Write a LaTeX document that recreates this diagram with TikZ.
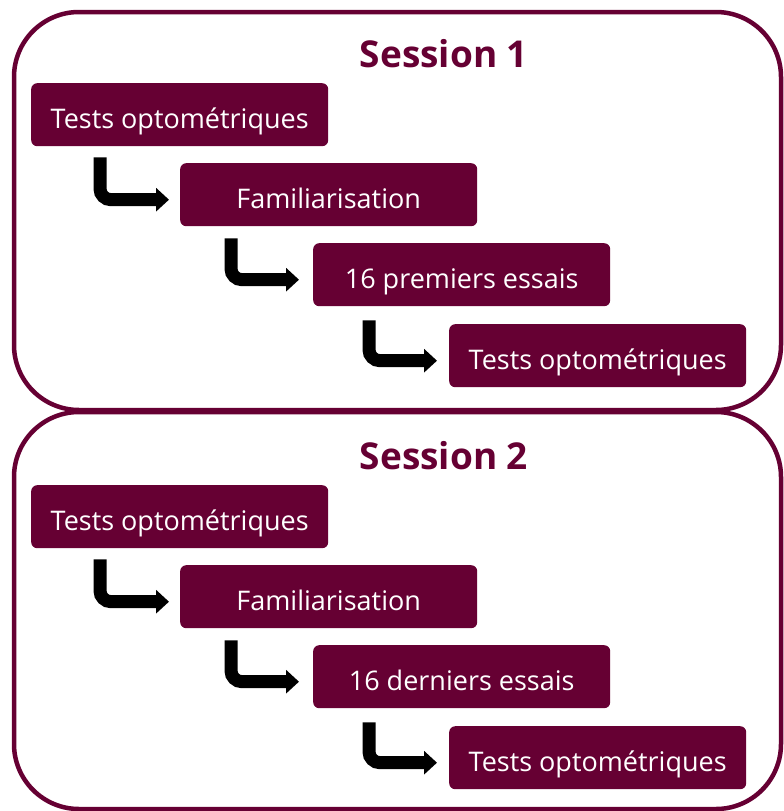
\documentclass[tikz,border=0pt]{standalone}
\usepackage{fontspec}
\setmainfont{Open Sans}
\usetikzlibrary{arrows.meta}
\definecolor{mauve}{HTML}{660033}
\tikzset{
  stepbox/.style={fill=mauve, rounded corners=6pt, minimum width=297pt, minimum height=63pt,
    text=white, inner sep=0pt, text height=27pt, text depth=0pt, anchor=north west,
    font=\fontsize{27}{32}\selectfont},
  sessiontitle/.style={text=mauve, anchor=base, inner sep=0pt, font=\fontsize{37}{44}\selectfont\bfseries},
  container/.style={draw=mauve, line width=4.5pt, rounded corners=65pt},
  flow/.style={draw=black, line width=13pt, rounded corners=11pt, -{Triangle[length=13pt,width=23pt]}}
}
\begin{document}
\begin{tikzpicture}[x=1pt,y=-1pt]
\useasboundingbox (0,0) rectangle (784,811);
% containers
\draw[container] (14,12) rectangle (781,410);
\draw[container] (14,412) rectangle (781,809);
% session 1
\node[sessiontitle] (t1) at (444,67) {Session 1};
\node[stepbox] (a1) at (31,83) {Tests optométriques};
\node[stepbox] (a2) at (180,163) {Familiarisation};
\node[stepbox] (a3) at (313,243) {16 premiers essais};
\node[stepbox] (a4) at (449,324) {Tests optométriques};
\draw[flow] ([shift={(69,11)}]a1.south west) |- ([shift={(-11,5)}]a2.west);
\draw[flow] ([shift={(51,12)}]a2.south west) |- ([shift={(-14,5)}]a3.west);
\draw[flow] ([shift={(56,14)}]a3.south west) |- ([shift={(-12,5)}]a4.west);
% session 2
\node[sessiontitle] (t2) at (444,469) {Session 2};
\node[stepbox] (b1) at (31,485) {Tests optométriques};
\node[stepbox] (b2) at (180,565) {Familiarisation};
\node[stepbox] (b3) at (313,645) {16 derniers essais};
\node[stepbox] (b4) at (449,726) {Tests optométriques};
\draw[flow] ([shift={(69,11)}]b1.south west) |- ([shift={(-11,5)}]b2.west);
\draw[flow] ([shift={(51,12)}]b2.south west) |- ([shift={(-14,5)}]b3.west);
\draw[flow] ([shift={(56,14)}]b3.south west) |- ([shift={(-12,5)}]b4.west);
\end{tikzpicture}
\end{document}
